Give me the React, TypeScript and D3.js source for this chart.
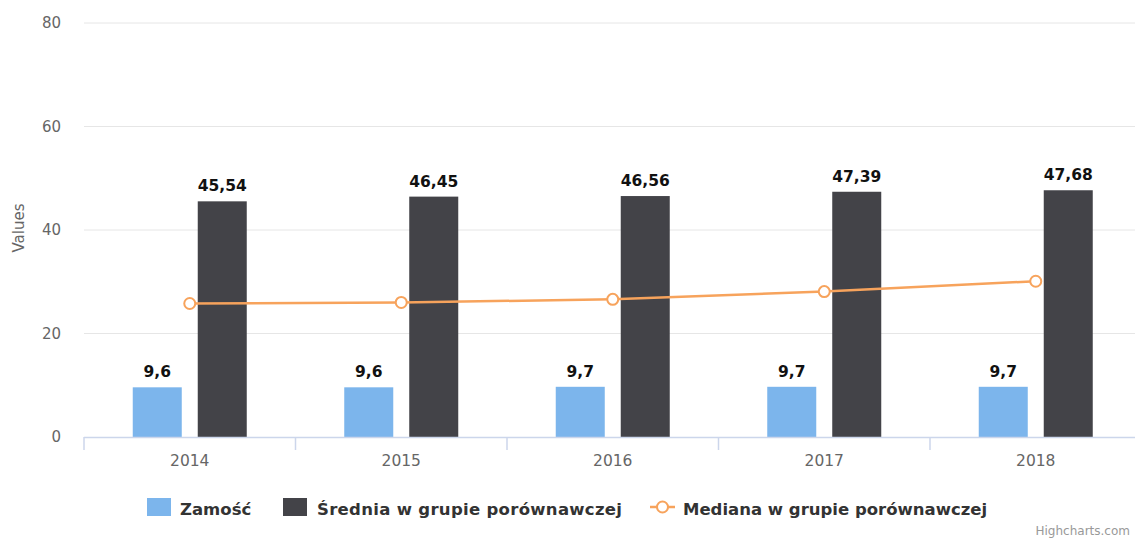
import React from "react";
import * as d3 from "d3";

const years = ["2014", "2015", "2016", "2017", "2018"];
const zamosc = [9.6, 9.6, 9.7, 9.7, 9.7];
const srednia = [45.54, 46.45, 46.56, 47.39, 47.68];
const mediana = [25.8, 26.0, 26.6, 28.1, 30.1];
const yTicks = [0, 20, 40, 60, 80];
const seriesNames = ["Zamość", "Średnia w grupie porównawczej", "Mediana w grupie porównawczej"];
const colors = ["#7cb5ec", "#434348", "#f7a35c"];

const W = 1135;
const H = 540;
const FONT = "'DejaVu Sans', 'Lucida Grande', Arial, sans-serif";

const fmt = (v: number) => String(v).replace(".", ",");

export default function App() {
  const x = d3.scaleBand<string>().domain(years).range([84, 1141.5]).padding(0);
  const y = d3.scaleLinear().domain([0, 80]).range([437, 23]);
  const groupW = 114;
  const x1 = d3
    .scaleBand<string>()
    .domain(["a", "b"])
    .range([0, groupW])
    .paddingInner(0.246)
    .paddingOuter(0);
  const bw = x1.bandwidth();
  const center = (yr: string) => (x(yr) as number) + x.bandwidth() / 2;
  const line = d3
    .line<number>()
    .x((_, i) => center(years[i]))
    .y((d) => y(d));

  const boundaries = [...years.map((yr) => x(yr) as number), (x(years[years.length - 1]) as number) + x.bandwidth()];

  return (
    <div style={{ position: "fixed", left: 0, top: 0 }}>
      <svg width={W} height={H} style={{ display: "block", fontFamily: FONT }}>
        <rect x={0} y={0} width={W} height={H} fill="#ffffff" />
        {yTicks
          .filter((t) => t !== 0)
          .map((t) => (
            <line key={t} x1={84} x2={1141} y1={y(t)} y2={y(t)} stroke="#e6e6e6" strokeWidth={1} />
          ))}
        {yTicks.map((t) => (
          <text key={t} x={61} y={y(t) + 5} textAnchor="end" fontSize={15} fill="#666666">
            {t}
          </text>
        ))}
        <text transform={`translate(24,228) rotate(-90)`} textAnchor="middle" fontSize={15} fill="#666666">
          Values
        </text>
        {years.map((yr, i) => {
          const g0 = center(yr) - groupW / 2;
          const xa = g0 + (x1("a") as number);
          const xb = g0 + (x1("b") as number);
          return (
            <g key={yr}>
              <rect x={xa} y={y(zamosc[i])} width={bw} height={y(0) - y(zamosc[i])} fill={colors[0]} />
              <rect x={xb} y={y(srednia[i])} width={bw} height={y(0) - y(srednia[i])} fill={colors[1]} />
            </g>
          );
        })}
        <line x1={84} x2={1141} y1={437.5} y2={437.5} stroke="#ccd6eb" strokeWidth={1.5} />
        {boundaries.map((b, i) => (
          <line key={i} x1={b} x2={b} y1={437} y2={450} stroke="#ccd6eb" strokeWidth={1.5} />
        ))}
        {years.map((yr) => (
          <text key={yr} x={center(yr)} y={466} textAnchor="middle" fontSize={15.5} fill="#666666">
            {yr}
          </text>
        ))}
        <path d={line(mediana) || ""} fill="none" stroke={colors[2]} strokeWidth={2.5} />
        {mediana.map((v, i) => (
          <circle key={i} cx={center(years[i])} cy={y(v)} r={5.5} fill="#ffffff" stroke={colors[2]} strokeWidth={2} />
        ))}
        {years.map((yr, i) => {
          const g0 = center(yr) - groupW / 2;
          const xa = g0 + (x1("a") as number) + bw / 2;
          const xb = g0 + (x1("b") as number) + bw / 2;
          return (
            <g key={yr} fontSize={15.5} fontWeight="bold" fill="#111111" textAnchor="middle">
              <text x={xa} y={y(zamosc[i]) - 10} stroke="#ffffff" strokeWidth={2} paintOrder="stroke">
                {fmt(zamosc[i])}
              </text>
              <text x={xb} y={y(srednia[i]) - 10} stroke="#ffffff" strokeWidth={2} paintOrder="stroke">
                {fmt(srednia[i])}
              </text>
            </g>
          );
        })}
        <g fontSize={16.5} fontWeight="bold" fill="#333333">
          <rect x={147} y={498} width={24} height={18} fill={colors[0]} />
          <text x={180} y={515}>{seriesNames[0]}</text>
          <rect x={283} y={498} width={24} height={18} fill={colors[1]} />
          <text x={317} y={515} textLength={305} lengthAdjust="spacing">{seriesNames[1]}</text>
          <line x1={650} x2={675} y1={507} y2={507} stroke={colors[2]} strokeWidth={2.5} />
          <circle cx={662.5} cy={507} r={5.5} fill="#ffffff" stroke={colors[2]} strokeWidth={2} />
          <text x={683} y={515}>{seriesNames[2]}</text>
        </g>
        <text x={1130} y={535} textAnchor="end" fontSize={12} fill="#999999">
          Highcharts.com
        </text>
      </svg>
    </div>
  );
}
